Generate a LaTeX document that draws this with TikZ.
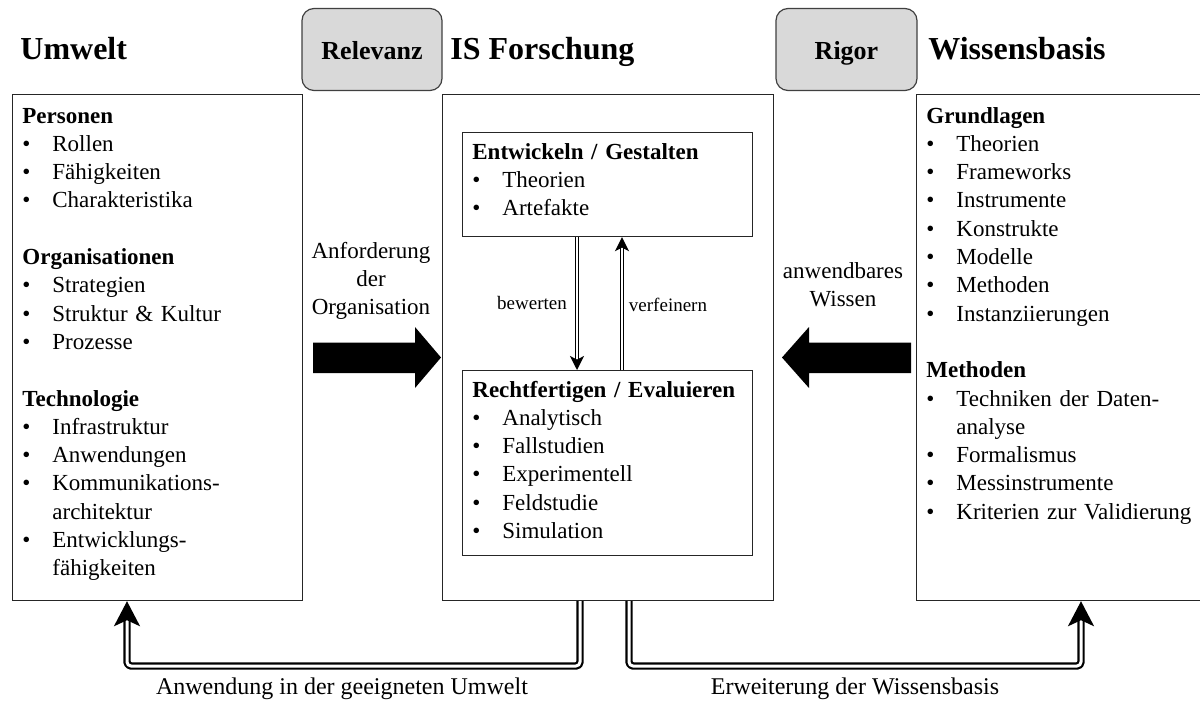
\documentclass[tikz,border=0pt]{standalone}
\usepackage{fontspec}
\setmainfont{Liberation Serif}
\usetikzlibrary{arrows.meta}
% bullet item and continuation indent for the lists
\newcommand\itm{\makebox[15pt][l]{\textbullet}}
\newcommand\cont{\hspace*{15pt}}

\begin{document}
\begin{tikzpicture}[x=0.5pt,y=-0.5pt,
  every node/.style={font=\fontsize{11.5}{14.15}\selectfont},
  box/.style={draw=black!85,line width=0.6pt,inner sep=0pt,anchor=north west},
  tagbox/.style={draw=black!75,fill=black!15,line width=0.6pt,rounded corners=6pt,inner sep=0pt,
    text height=11pt,text depth=1.5pt,font=\fontsize{13}{15}\selectfont\bfseries},
  head/.style={anchor=base west,inner sep=0pt,font=\fontsize{16}{19}\selectfont\bfseries},
  lst/.style={anchor=base west,inner sep=0pt,align=left,text width=140pt},
  lbl/.style={inner sep=0pt,align=center},
  bottomlbl/.style={inner sep=0pt,font=\fontsize{12}{14}\selectfont},
  small/.style={inner sep=0pt,font=\fontsize{9.5}{11}\selectfont},
  inarrow/.style={draw=black,line width=0.7pt,double=white,double distance=1pt,
    -{Stealth[length=7pt,width=7pt,inset=1.8pt]}},
  outarrow/.style={draw=black,line width=1.1pt,double=white,double distance=1.5pt,
    line join=round,rounded corners=2pt,-{Stealth[length=12.5pt,width=13pt,inset=3pt]}},
  blockarrow/.style={fill=black}]

\clip (0,0) rectangle (1200,702);

% main columns
\node[box,minimum width=145pt,minimum height=253pt] (umw) at (12,94) {};
\node[box,minimum width=165.5pt,minimum height=253pt] (isf) at (442,94) {};
\node[box,minimum width=150pt,minimum height=253pt] (wb) at (916,94) {};

% inner boxes of the research column
\node[box,minimum width=145pt,minimum height=52pt] (dev) at (462,132) {};
\node[box,minimum width=145pt,minimum height=92.5pt] (eva) at (462,370) {};

% cycle tags
\node[tagbox,minimum width=70pt,minimum height=41pt] (rel) at (372,49.5) {Relevanz};
\node[tagbox,minimum width=70.5pt,minimum height=41pt] (rig) at (846.5,49.5) {Rigor};

% column titles
\node[head] (tu) at (20,59) {Umwelt};
\node[head] (ti) at (450,59) {IS Forschung};
\node[head] (tw) at (928,59) {Wissensbasis};

% environment list
\node[lst] (lu) at (22,123) {\textbf{Personen}\\
  \itm Rollen\\
  \itm Fähigkeiten\\
  \itm Charakteristika\\[14.15pt]
  \textbf{Organisationen}\\
  \itm Strategien\\
  \itm Struktur \& Kultur\\
  \itm Prozesse\\[14.15pt]
  \textbf{Technologie}\\
  \itm Infrastruktur\\
  \itm Anwendungen\\
  \itm Kommunikations-\\
  \cont architektur\\
  \itm Entwicklungs-\\
  \cont fähigkeiten};

% develop / justify lists
\node[lst] (ld) at (472,159) {\textbf{Entwickeln / Gestalten}\\
  \itm Theorien\\
  \itm Artefakte};
\node[lst] (le) at (472,397) {\textbf{Rechtfertigen / Evaluieren}\\
  \itm Analytisch\\
  \itm Fallstudien\\
  \itm Experimentell\\
  \itm Feldstudie\\
  \itm Simulation};

% knowledge base list
\node[lst] (lw) at (926,123) {\textbf{Grundlagen}\\
  \itm Theorien\\
  \itm Frameworks\\
  \itm Instrumente\\
  \itm Konstrukte\\
  \itm Modelle\\
  \itm Methoden\\
  \itm Instanziierungen\\[14.15pt]
  \textbf{Methoden}\\
  \itm Techniken der Daten-\\
  \cont analyse\\
  \itm Formalismus\\
  \itm Messinstrumente\\
  \itm Kriterien zur Validierung};

% block arrows with their captions
\node[lbl] (anf) at (371,281) {Anforderung\\der\\Organisation};
\node[lbl] (awi) at (843,285) {anwendbares\\Wissen};
\fill[blockarrow] (313,342.5) -- (415,342.5) -- (415,327) -- (441,357.5)
  -- (415,388) -- (415,373) -- (313,373) -- cycle;
\fill[blockarrow] (911,342.5) -- (809,342.5) -- (809,327) -- (782,357.5)
  -- (809,388) -- (809,373) -- (911,373) -- cycle;

% build / evaluate loop
\coordinate (xb) at (577,0);
\coordinate (xv) at (622,0);
\draw[inarrow] (dev.south -| xb) -- (eva.north -| xb);
\draw[inarrow] (eva.north -| xv) -- (dev.south -| xv);
\node[small] (bw) at (532,303) {bewerten};
\node[small] (vf) at (668,305) {verfeinern};

% feedback to environment and knowledge base
\coordinate (l1) at (580,666);
\coordinate (l2) at (127,666);
\draw[outarrow] (isf.south -| l1) -- (l1) -- (l2) -- (umw.south -| l2);
\coordinate (r1) at (629,666);
\coordinate (r2) at (1081,666);
\draw[outarrow] (isf.south -| r1) -- (r1) -- (r2) -- (wb.south -| r2);
\node[bottomlbl] (anw) at (342,689) {Anwendung in der geeigneten Umwelt};
\node[bottomlbl] (erw) at (855,689) {Erweiterung der Wissensbasis};
\end{tikzpicture}
\end{document}
